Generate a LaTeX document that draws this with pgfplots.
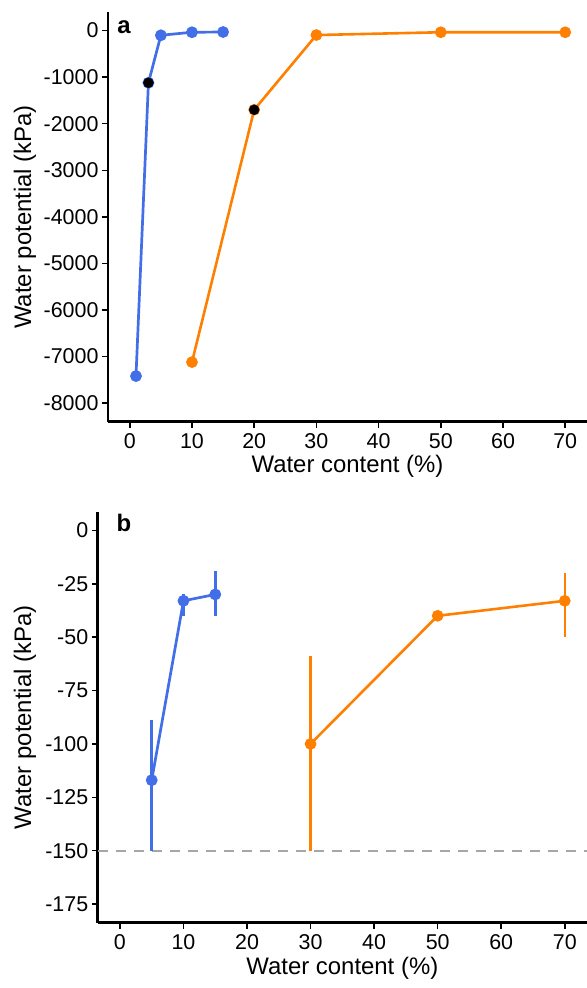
\documentclass[border=0pt]{standalone}
\usepackage{fontspec}
\setmainfont{Liberation Sans}
\usepackage{pgfplots}
\pgfplotsset{compat=1.18}
\definecolor{cblue}{RGB}{66,110,232}
\definecolor{corange}{RGB}{255,127,0}
\definecolor{dgray}{RGB}{166,166,166}
\pgfplotsset{
  myaxis/.style={
    scale only axis,
    anchor=south west,
    axis x line*=bottom, axis y line*=left,
    axis line style={line width=2.4bp, black, -},
    tick align=outside,
    major tick length=6bp,
    tick style={line width=1.5bp, black},
    xmin=-3.5, xmax=73.5,
    xtick={0,10,20,30,40,50,60,70},
    xticklabels={0,10,20,30,40,50,60,70},
    tick label style={font=\fontsize{21.5}{25}\selectfont, black},
    xticklabel style={yshift=-2bp},
    label style={font=\fontsize{24}{28}\selectfont},
    xlabel={Water content (\%)},
    ylabel={Water potential (kPa)},
    minor tick num=0,
    clip=false,
  },
  bl/.style={cblue, line width=2.7bp, mark=*, mark size=4.5bp, mark options={solid}},
  or/.style={corange, line width=2.6bp, mark=*, mark size=4.5bp, mark options={solid}},
}
\begin{document}
\begin{tikzpicture}
\useasboundingbox (0,0) rectangle (587bp,988bp);
% panel a
\begin{axis}[myaxis, at={(108bp,566.3bp)}, width=479bp, height=409.7bp,
  ymin=-8400, ymax=400,
  ytick={-8000,-7000,-6000,-5000,-4000,-3000,-2000,-1000,0},
  yticklabels={-8000,-7000,-6000,-5000,-4000,-3000,-2000,-1000,0},
  xlabel style={at={(axis description cs:0.5,-0.108)}, anchor=center},
  ylabel style={at={(axis description cs:-0.1733,0.5)}, anchor=center},
]
\addplot[bl] coordinates {(1,-7420) (3,-1120) (5,-100) (10,-35) (15,-30)};
\addplot[or] coordinates {(10,-7120) (20,-1700) (30,-95) (50,-35) (70,-35)};
\addplot[only marks, mark=*, mark size=5bp, black] coordinates {(3,-1120) (20,-1700)};
\end{axis}
% panel b
\begin{axis}[myaxis, at={(97.7bp,65.3bp)}, width=489.3bp, height=411bp,
  ymin=-183.75, ymax=8.75,
  ytick={-175,-150,-125,-100,-75,-50,-25,0},
  yticklabels={-175,-150,-125,-100,-75,-50,-25,0},
  xlabel style={at={(axis description cs:0.5,-0.112)}, anchor=center},
  ylabel style={at={(axis description cs:-0.1486,0.5)}, anchor=center},
]
\addplot[dgray, line width=2bp, dash pattern=on 10bp off 8bp] coordinates {(-3.5,-150) (73.5,-150)};
\addplot[bl, error bars/.cd, y dir=both, y explicit, error bar style={line width=2.5bp, cblue, solid}, error mark=none]
  table[x=x, y=y, y error plus=ep, y error minus=em] {
x y ep em
5 -117 28 33
10 -33 3 7
15 -30 11 10
};
\addplot[or, error bars/.cd, y dir=both, y explicit, error bar style={line width=2.5bp, corange, solid}, error mark=none]
  table[x=x, y=y, y error plus=ep, y error minus=em] {
x y ep em
30 -100 41 50
50 -40 0 0
70 -33 13 17
};
\end{axis}
\node[font=\bfseries\fontsize{24}{28}\selectfont] at (124bp,960.5bp) {a};
\node[font=\bfseries\fontsize{24}{28}\selectfont] at (124bp,465.5bp) {b};
\end{tikzpicture}
\end{document}
